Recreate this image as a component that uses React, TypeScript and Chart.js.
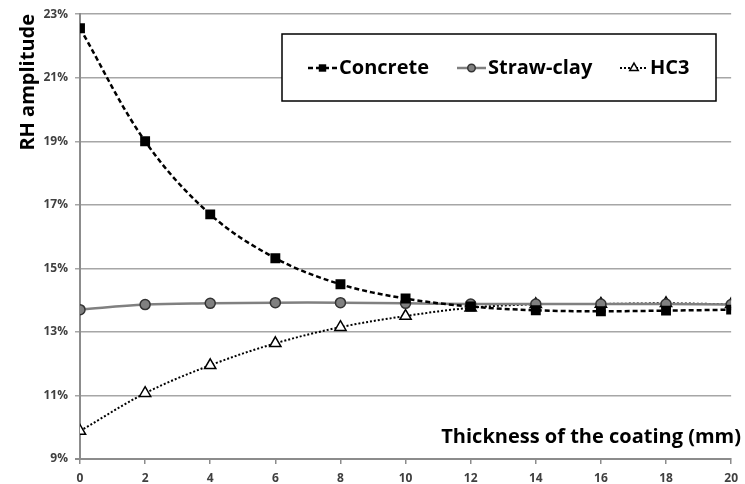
import React, { useEffect, useRef } from "react";
import { Chart, registerables } from "chart.js";

Chart.register(...registerables);

const thickness = [0, 2, 4, 6, 8, 10, 12, 14, 16, 18, 20];
const concrete = [22.56, 19.0, 16.7, 15.32, 14.5, 14.05, 13.8, 13.68, 13.65, 13.67, 13.7];
const strawClay = [13.7, 13.86, 13.9, 13.92, 13.92, 13.9, 13.88, 13.88, 13.88, 13.88, 13.86];
const hc3 = [9.88, 11.07, 11.95, 12.64, 13.15, 13.5, 13.76, 13.87, 13.88, 13.9, 13.87];
const seriesLabels = ["Concrete", "Straw-clay", "HC3"];
const yTicks = [9, 11, 13, 15, 17, 19, 21, 23];
const xTitle = "Thickness of the coating (mm)";
const yTitle = "RH amplitude";

const FONT = "'Open Sans', 'DejaVu Sans', sans-serif";

const overlayPlugin = {
  id: "overlay",
  afterDraw(chart: any) {
    const ctx = chart.ctx;
    ctx.save();
    // axis titles
    ctx.fillStyle = "#000";
    ctx.font = `bold 20px ${FONT}`;
    ctx.textBaseline = "middle";
    ctx.textAlign = "right";
    ctx.fillText(xTitle, 741, 437);
    ctx.save();
    ctx.translate(28, 0);
    ctx.rotate(-Math.PI / 2);
    ctx.textAlign = "right";
    ctx.fillText(yTitle, -14, 0);
    ctx.restore();

    // legend box
    const bx = 282, by = 34, bw = 434, bh = 67;
    ctx.fillStyle = "#fff";
    ctx.fillRect(bx, by, bw, bh);
    ctx.strokeStyle = "#000";
    ctx.lineWidth = 1.5;
    ctx.strokeRect(bx, by, bw, bh);

    const items = [
      { x0: 308, x1: 337, tx: 339 },
      { x0: 457, x1: 486, tx: 488 },
      { x0: 620, x1: 648, tx: 650 },
    ];
    const cy = 68;
    chart.data.datasets.forEach((ds: any, i: number) => {
      const it = items[i];
      ctx.save();
      ctx.strokeStyle = ds.borderColor;
      ctx.lineWidth = ds.borderWidth;
      ctx.setLineDash(ds.borderDash || []);
      ctx.beginPath();
      ctx.moveTo(it.x0, cy);
      ctx.lineTo(it.x1, cy);
      ctx.stroke();
      ctx.restore();
      const meta = chart.getDatasetMeta(i);
      const el = meta.data[0];
      if (el) {
        const opts = el.options;
        ctx.save();
        ctx.fillStyle = opts.backgroundColor;
        ctx.strokeStyle = opts.borderColor;
        ctx.lineWidth = opts.borderWidth;
        const r = opts.radius * 0.75;
        const mx = (it.x0 + it.x1) / 2;
        ctx.beginPath();
        if (ds.pointStyle === "rect") {
          const s = r * Math.SQRT1_2;
          ctx.rect(mx - s, cy - s, 2 * s, 2 * s);
        } else if (ds.pointStyle === "triangle") {
          ctx.moveTo(mx, cy - r);
          ctx.lineTo(mx + r * 0.866, cy + r * 0.5);
          ctx.lineTo(mx - r * 0.866, cy + r * 0.5);
          ctx.closePath();
        } else {
          ctx.arc(mx, cy, r, 0, Math.PI * 2);
        }
        ctx.fill();
        if (opts.borderWidth > 0) ctx.stroke();
        ctx.restore();
      }
      ctx.fillStyle = "#000";
      ctx.font = `bold 20px ${FONT}`;
      ctx.textAlign = "left";
      ctx.textBaseline = "middle";
      ctx.fillText(ds.label, it.tx, cy);
    });
    ctx.restore();
  },
};

export default function App() {
  const ref = useRef<HTMLCanvasElement>(null);
  useEffect(() => {
    document.body.style.margin = "0";
    const toPts = (arr: number[]) => arr.map((v, i) => ({ x: thickness[i], y: v }));
    const chart = new Chart(ref.current!, {
      type: "line",
      data: {
        datasets: [
          {
            label: seriesLabels[0],
            data: toPts(concrete),
            borderColor: "#000",
            backgroundColor: "#000",
            borderWidth: 2.5,
            borderDash: [5, 3],
            pointStyle: "rect",
            pointRadius: 7,
            pointBackgroundColor: "#000",
            pointBorderColor: "#000",
            pointBorderWidth: 0,
            tension: 0.35,
          } as any,
          {
            label: seriesLabels[1],
            data: toPts(strawClay),
            borderColor: "#808080",
            backgroundColor: "#808080",
            borderWidth: 2.5,
            pointStyle: "circle",
            pointRadius: 5,
            pointBackgroundColor: "#808080",
            pointBorderColor: "#333",
            pointBorderWidth: 1.5,
            tension: 0.35,
          } as any,
          {
            label: seriesLabels[2],
            data: toPts(hc3),
            borderColor: "#000",
            backgroundColor: "#fff",
            borderWidth: 2,
            borderDash: [2, 2],
            pointStyle: "triangle",
            pointRadius: 6.5,
            pointBackgroundColor: "#fff",
            pointBorderColor: "#000",
            pointBorderWidth: 1.5,
            tension: 0.35,
          } as any,
        ],
      },
      options: {
        animation: false,
        responsive: false,
        maintainAspectRatio: false,
        layout: { padding: { top: 13, right: 11, left: 0, bottom: 0 } },
        plugins: { legend: { display: false }, tooltip: { enabled: false }, title: { display: false } },
        scales: {
          x: {
            type: "linear",
            min: 0,
            max: 20,
            afterFit: (s: any) => { s.height = 25; },
            afterBuildTicks: (s: any) => { s.ticks = thickness.map((v) => ({ value: v })); },
            grid: { display: true, drawOnChartArea: false, drawTicks: true, tickLength: 5, color: "#8c8c8c", lineWidth: 1.5 },
            border: { color: "#8c8c8c", width: 2 },
            ticks: { padding: 7, font: { family: FONT, size: 12, weight: "bold" }, color: "#404040", maxRotation: 0 },
          },
          y: {
            type: "linear",
            min: 9,
            max: 23,
            afterFit: (s: any) => { s.width = 80; },
            afterBuildTicks: (s: any) => { s.ticks = yTicks.map((v) => ({ value: v })); },
            grid: { color: (c: any) => (c.tick && c.tick.value === 9 ? "#8c8c8c" : "#a6a6a6"), lineWidth: (c: any) => (c.tick && c.tick.value === 9 ? 2 : 1.5), tickLength: 5, drawTicks: true },
            border: { color: "#8c8c8c", width: 2 },
            ticks: { padding: 7, font: { family: FONT, size: 12, weight: "bold" }, color: "#404040", callback: (v: any) => v + "%" },
          },
        },
      },
      plugins: [overlayPlugin],
    });
    return () => chart.destroy();
  }, []);
  return (
    <div style={{ width: 745, height: 484, background: "#fff" }}>
      <canvas ref={ref} width={745} height={484} style={{ display: "block" }} />
    </div>
  );
}
